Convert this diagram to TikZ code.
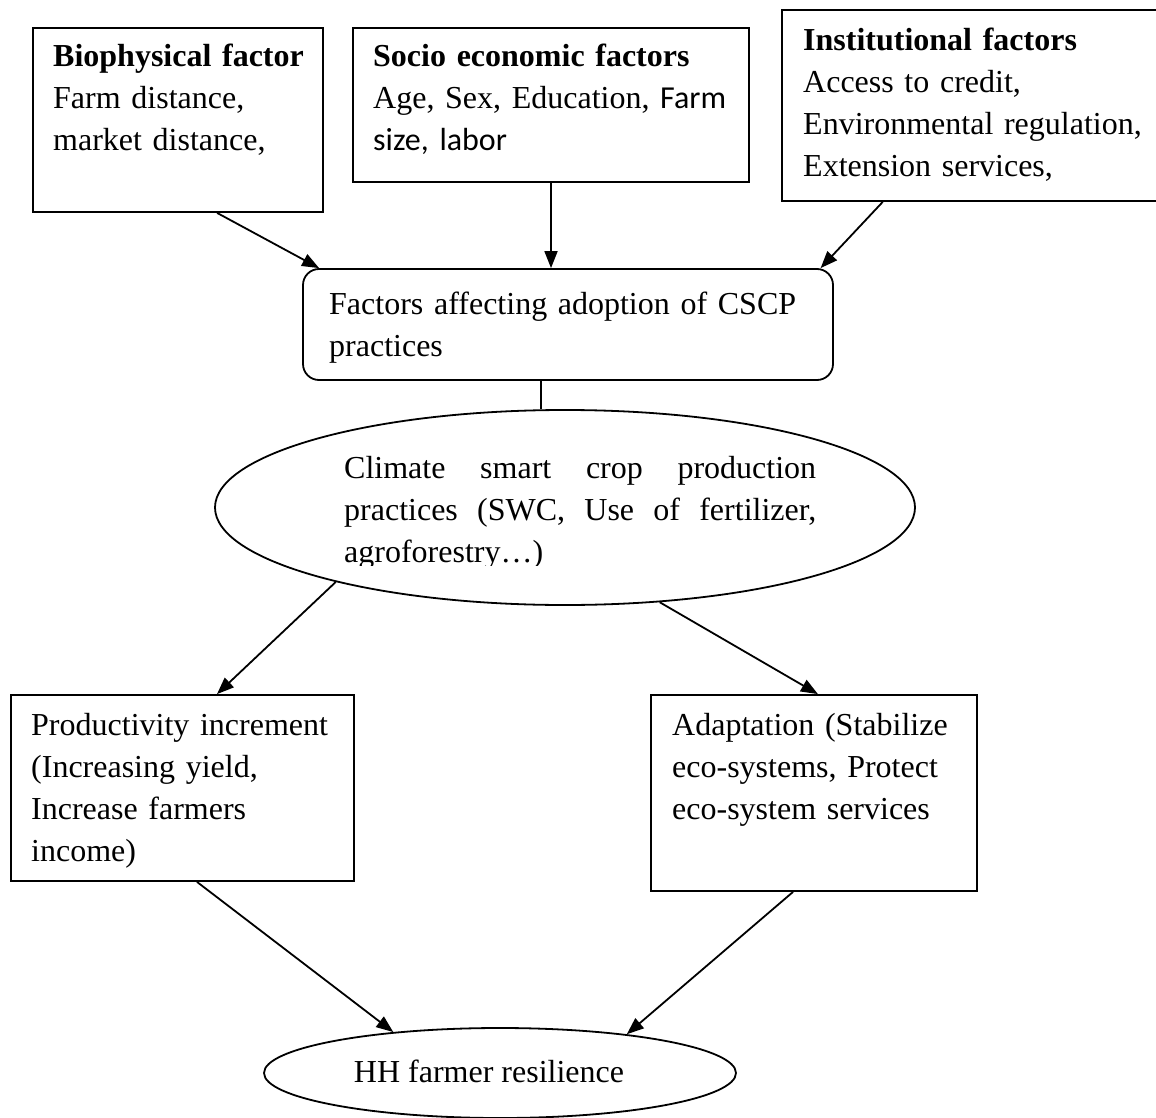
\documentclass[tikz,border=0pt]{standalone}
\usepackage{fontspec}
\setmainfont{Liberation Serif}
\newfontfamily\calibfont{Carlito}
\usetikzlibrary{arrows.meta,shapes.geometric,calc}
\begin{document}
\begin{tikzpicture}[x=1pt,y=-1pt,
  box/.style={draw, line width=1.8pt, rectangle, inner sep=0pt},
  oval/.style={draw, line width=1.8pt, ellipse, inner sep=0pt},
  txt/.style={anchor=base west, inner sep=0pt, align=left, text width=#1, font=\fontsize{32}{42}\selectfont},
  conn/.style={line width=1.8pt, -{Triangle[length=17pt,width=13pt]}},
  plainline/.style={line width=1.8pt}]
\useasboundingbox (0,0) rectangle (1156,1118);
\fill[white] (0,0) rectangle (1156,1118);

% boxes
\node[box, minimum width=290pt, minimum height=184pt] (bio) at (178,120) {};
\node[box, minimum width=396pt, minimum height=154pt] (soc) at (551,105) {};
\node[box, minimum width=376pt, minimum height=191pt] (inst) at (970,105.5) {};
\node[box, rounded corners=16pt, minimum width=530pt, minimum height=111pt] (fac) at (568,324.5) {};
\node[oval, minimum width=700pt, minimum height=195pt] (csp) at (565,507.5) {};
\node[box, minimum width=343pt, minimum height=186pt] (prod) at (182.5,788) {};
\node[box, minimum width=326pt, minimum height=196pt] (adap) at (814,793) {};
\node[oval, minimum width=472pt, minimum height=90pt] (hh) at (500,1073) {};

% texts
\node[txt=270pt] (tbio) at (53,67) {\textbf{Biophysical factor}\\Farm distance,\\market distance,};
\node[txt=380pt] (tsoc) at (373,67) {\textbf{Socio economic factors}\\Age, Sex, Education, {\calibfont Farm}\\{\calibfont size, labor}};
\node[txt=360pt] (tinst) at (803,51) {\textbf{Institutional factors}\\Access to credit,\\Environmental regulation,\\Extension services,};
\node[txt=500pt] (tfac) at (329,314) {Factors affecting adoption of CSCP\\practices};
\begin{scope}
\clip (300,420) rectangle (900,565);
\node[txt=472pt, align=justify] (tcsp) at (344,478) {Climate smart crop production\linebreak practices (SWC, Use of fertilizer,\linebreak agroforestry…)};
\end{scope}
\node[txt=330pt] (tprod) at (31,735) {Productivity increment\\(Increasing yield,\\Increase farmers\\income)};
\node[txt=310pt] (tadap) at (672,735) {Adaptation (Stabilize\\eco-systems, Protect\\eco-system services};
\node[anchor=base, inner sep=0pt, font=\fontsize{32}{42}\selectfont] (thh) at (489,1082) {HH farmer resilience};

% connectors
\draw[conn] ($(bio.south west)!0.634!(bio.south east)$) -- ($(fac.north west)!0.032!(fac.north east)$);
\draw[conn] (soc.south) -- (soc.south |- fac.north);
\draw[conn] ($(inst.south west)!0.269!(inst.south east)$) -- ($(fac.north west)!0.975!(fac.north east)$);
\draw[plainline] ($(fac.south west)!0.449!(fac.south east)$) coordinate (fs) -- (fs |- csp.north);
\draw[conn] (csp.198) -- ($(prod.north west)!0.60!(prod.north east)$);
\draw[conn] (csp.315) -- ($(adap.north west)!0.512!(adap.north east)$);
\draw[conn] ($(prod.south west)!0.542!(prod.south east)$) -- (hh.159);
\draw[conn] ($(adap.south west)!0.436!(adap.south east)$) -- (hh.17);
\end{tikzpicture}
\end{document}
